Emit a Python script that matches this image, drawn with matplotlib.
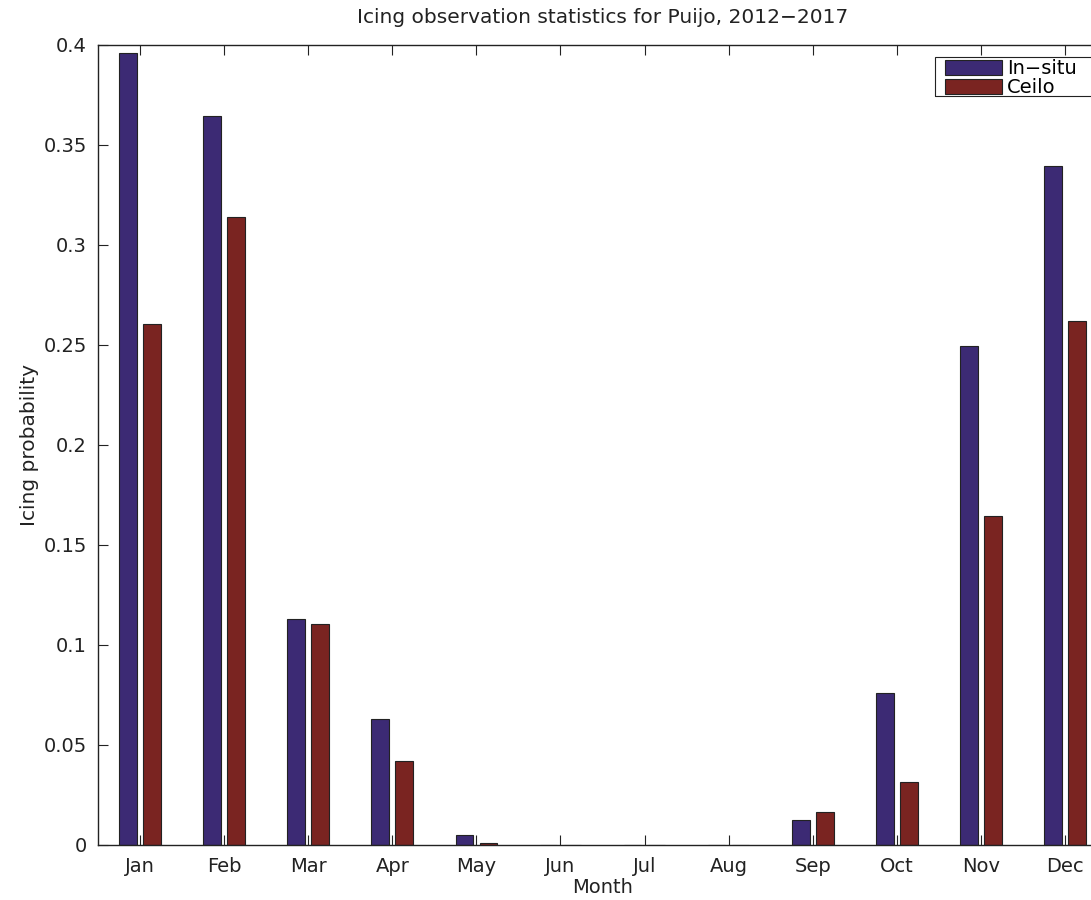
import numpy as np
import matplotlib
matplotlib.use("Agg")
import matplotlib.pyplot as plt
from matplotlib.patches import Rectangle

months = ["Jan", "Feb", "Mar", "Apr", "May", "Jun", "Jul", "Aug", "Sep", "Oct", "Nov", "Dec"]
in_situ = [0.396, 0.3645, 0.113, 0.063, 0.005, 0.0, 0.0, 0.0, 0.0125, 0.076, 0.2495, 0.3395]
ceilo = [0.2605, 0.314, 0.1105, 0.042, 0.001, 0.0, 0.0, 0.0, 0.0165, 0.0315, 0.1645, 0.262]
yticks = [0, 0.05, 0.1, 0.15, 0.2, 0.25, 0.3, 0.35, 0.4]
ytick_labels = ["0", "0.05", "0.1", "0.15", "0.2", "0.25", "0.3", "0.35", "0.4"]

plt.rcParams["font.family"] = ["DejaVu Sans"]

fig = plt.figure(figsize=(10.91, 9.0), dpi=100)
W, H = 1091, 900
left, right, top, bottom = 98, 1107, 45, 845
ax = fig.add_axes([left / W, 1 - bottom / H, (right - left) / W, (bottom - top) / H])

x = np.arange(1, len(months) + 1)
off = 0.143
width = 0.21
c_blue = "#3c2a74"
c_red = "#7a2421"
ax.bar(x - off, in_situ, width, color=c_blue, edgecolor="#222222", linewidth=0.8, label="In\u2212situ")
ax.bar(x + off, ceilo, width, color=c_red, edgecolor="#222222", linewidth=0.8, label="Ceilo")

ax.set_xlim(0.5, 12.5)
ax.set_ylim(0, 0.4)
ax.set_xticks(x)
ax.set_xticklabels(months)
ax.set_yticks(yticks)
ax.set_yticklabels(ytick_labels)

ax.tick_params(axis="both", direction="in", labelsize=14, length=7, width=0.8,
               colors="#222222", top=True, right=True)
ax.tick_params(axis="x", pad=9)
ax.tick_params(axis="y", pad=8)
for s in ax.spines.values():
    s.set_linewidth(1.0)
    s.set_color("#222222")

ax.set_title("Icing observation statistics for Puijo, 2012\u22122017", fontsize=14.5, pad=16, color="#222222")
ax.set_xlabel("Month", fontsize=14, labelpad=1, color="#222222")
ax.set_ylabel("Icing probability", fontsize=14.5, labelpad=3, color="#222222")

# legend entries without their own frame; the box around them runs past the canvas edge
leg = fig.legend(*ax.get_legend_handles_labels(), loc="upper left",
                 bbox_to_anchor=(945 / W, 1 - 59 / H), bbox_transform=fig.transFigure,
                 fontsize=14, frameon=False,
                 handlelength=2.95, handleheight=0.85, handletextpad=0.25, borderpad=0,
                 labelspacing=0.0, borderaxespad=0)
fig.add_artist(Rectangle((935 / W, 1 - 96 / H), 200 / W, 39 / H, transform=fig.transFigure,
                         fill=False, edgecolor="#222222", linewidth=0.8, clip_on=False))

fig.savefig("out.png", dpi=100)
